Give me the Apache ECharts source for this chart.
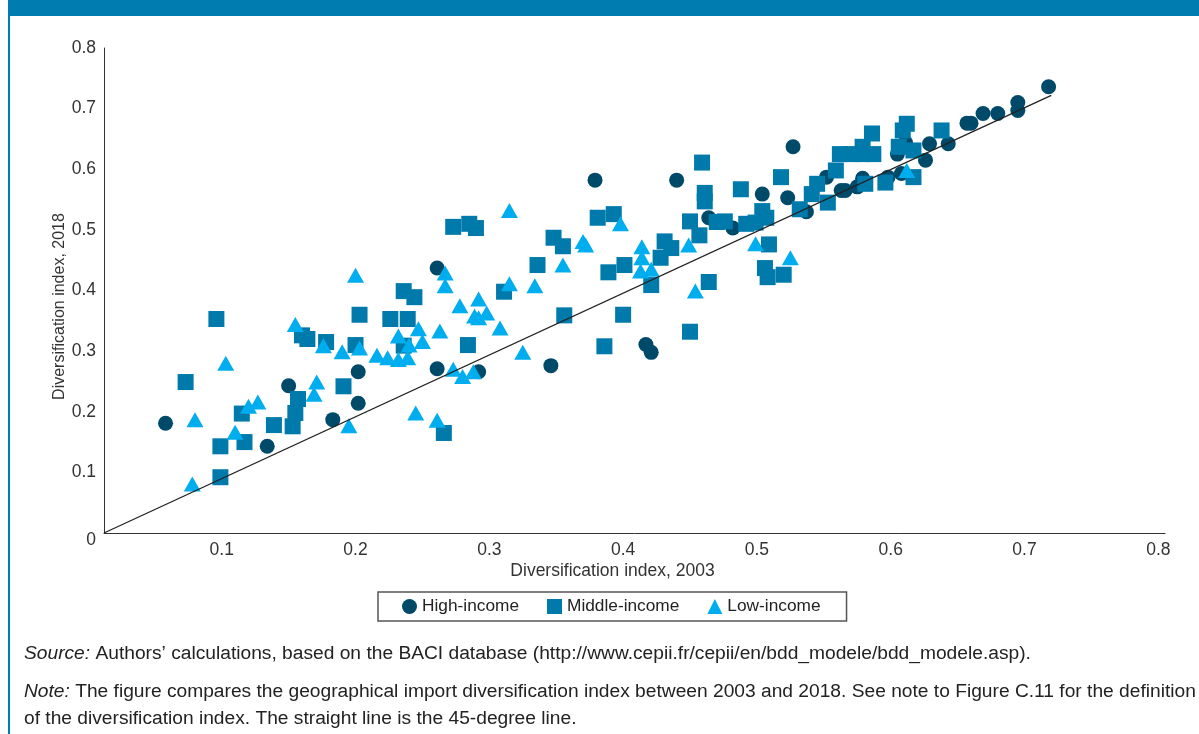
<!DOCTYPE html>
<html>
<head>
<meta charset="utf-8">
<title>Diversification index, 2003 and 2018</title>
<script src="https://cdn.jsdelivr.net/npm/echarts@6/dist/echarts.min.js"></script>
<style>
  html, body { margin: 0; padding: 0; background: #fff; }
  #chart { width: 1199px; height: 734px; }
</style>
</head>
<body>
<div id="chart"></div>
<script>
// [index 2003, index 2018] per country
var highIncome = [
  [0.058, 0.181], [0.134, 0.143], [0.150, 0.243], [0.183, 0.187], [0.202, 0.266],
  [0.202, 0.214], [0.261, 0.437], [0.261, 0.271], [0.292, 0.266], [0.346, 0.276],
  [0.379, 0.582], [0.440, 0.582], [0.417, 0.311], [0.421, 0.298], [0.464, 0.520],
  [0.482, 0.503], [0.504, 0.559], [0.523, 0.553], [0.527, 0.637], [0.537, 0.530],
  [0.552, 0.587], [0.563, 0.565], [0.566, 0.565], [0.575, 0.571], [0.579, 0.585],
  [0.598, 0.587], [0.608, 0.593], [0.605, 0.625], [0.611, 0.644], [0.626, 0.615],
  [0.629, 0.642], [0.643, 0.642], [0.657, 0.676], [0.660, 0.676], [0.669, 0.692],
  [0.680, 0.692], [0.695, 0.710], [0.695, 0.697], [0.718, 0.736]
]
var middleIncome = [
  [0.073, 0.249], [0.096, 0.353], [0.099, 0.143], [0.099, 0.092], [0.115, 0.197],
  [0.117, 0.150], [0.139, 0.178], [0.153, 0.176], [0.155, 0.198], [0.157, 0.221],
  [0.160, 0.326], [0.164, 0.320], [0.178, 0.315], [0.191, 0.242], [0.200, 0.310],
  [0.203, 0.360], [0.226, 0.353], [0.236, 0.399], [0.236, 0.309], [0.239, 0.353],
  [0.244, 0.389], [0.266, 0.165], [0.273, 0.505], [0.285, 0.510], [0.290, 0.503],
  [0.284, 0.310], [0.311, 0.398], [0.336, 0.442], [0.348, 0.487], [0.355, 0.473],
  [0.356, 0.359], [0.381, 0.520], [0.393, 0.526], [0.386, 0.308], [0.389, 0.430],
  [0.401, 0.442], [0.400, 0.360], [0.421, 0.409], [0.428, 0.454], [0.431, 0.481],
  [0.436, 0.470], [0.450, 0.332], [0.450, 0.514], [0.457, 0.491], [0.459, 0.611],
  [0.461, 0.561], [0.461, 0.547], [0.464, 0.414], [0.470, 0.513], [0.476, 0.514],
  [0.488, 0.567], [0.492, 0.510], [0.499, 0.512], [0.504, 0.531], [0.507, 0.520],
  [0.506, 0.437], [0.508, 0.422], [0.509, 0.476], [0.520, 0.426], [0.518, 0.587],
  [0.532, 0.534], [0.541, 0.559], [0.545, 0.576], [0.553, 0.545], [0.559, 0.598],
  [0.562, 0.625], [0.571, 0.625], [0.579, 0.625], [0.587, 0.625], [0.579, 0.637],
  [0.586, 0.659], [0.581, 0.576], [0.596, 0.578], [0.606, 0.637], [0.617, 0.631],
  [0.612, 0.675], [0.609, 0.664], [0.617, 0.587], [0.638, 0.664]
]
var lowIncome = [
  [0.078, 0.081], [0.080, 0.187], [0.103, 0.280], [0.110, 0.166], [0.120, 0.209],
  [0.127, 0.216], [0.155, 0.344], [0.169, 0.229], [0.171, 0.249], [0.176, 0.309],
  [0.190, 0.299], [0.195, 0.177], [0.200, 0.425], [0.203, 0.305], [0.216, 0.293],
  [0.224, 0.289], [0.232, 0.286], [0.232, 0.325], [0.239, 0.289], [0.240, 0.310],
  [0.245, 0.198], [0.247, 0.337], [0.250, 0.316], [0.261, 0.186], [0.263, 0.333],
  [0.267, 0.429], [0.267, 0.408], [0.273, 0.270], [0.278, 0.375], [0.280, 0.258],
  [0.288, 0.266], [0.289, 0.358], [0.292, 0.355], [0.292, 0.386], [0.298, 0.363],
  [0.308, 0.338], [0.315, 0.532], [0.315, 0.411], [0.325, 0.298], [0.334, 0.408],
  [0.355, 0.442], [0.370, 0.481], [0.372, 0.475], [0.398, 0.510], [0.413, 0.432],
  [0.414, 0.472], [0.414, 0.454], [0.421, 0.435], [0.449, 0.475], [0.454, 0.399],
  [0.499, 0.477], [0.525, 0.454], [0.612, 0.598]
]
// the straight (45-degree) line
var diagonal = [[0.012, 0], [0.72, 0.722]]
var xTickLabels = [0.1, 0.2, 0.3, 0.4, 0.5, 0.6, 0.7, 0.8]
var seriesNames = ['High-income', 'Middle-income', 'Low-income']
var sourceText = '{i|Source:} Authors\u2019 calculations, based on the BACI database (http://www.cepii.fr/cepii/en/bdd_modele/bdd_modele.asp).'
var noteLine1 = '{i|Note:} The figure compares the geographical import diversification index between 2003 and 2018. See note to Figure C.11 for the definition'
var noteLine2 = 'of the diversification index. The straight line is the 45-degree line.'

var font = '"Liberation Sans", Arial, Helvetica, sans-serif'
var blue = '#007cb0'
var footSize = 19.2

var chart = echarts.init(document.getElementById('chart'))

var option = {
  animation: false,
  textStyle: { fontFamily: font },
  grid: { left: 104, right: 34, top: 48, bottom: 201, containLabel: false, outerBoundsMode: 'none' },
  legend: {
    left: 378,
    top: 592,
    data: [
      { name: seriesNames[0], icon: 'circle' },
      { name: seriesNames[1], icon: 'rect' },
      { name: seriesNames[2], icon: 'triangle' }
    ],
    itemWidth: 15,
    itemHeight: 15,
    itemGap: 28,
    padding: [6, 26, 6, 24],
    borderColor: '#555',
    borderWidth: 1.5,
    borderRadius: 0,
    textStyle: { fontSize: 17.3, color: '#222', fontFamily: font }
  },
  xAxis: {
    type: 'value',
    min: 0.012,
    max: 0.805,
    splitLine: { show: false },
    axisTick: { show: false },
    axisLine: { show: true, lineStyle: { color: '#333', width: 1 } },
    axisLabel: {
      customValues: xTickLabels,
      margin: 8,
      fontSize: 17.5,
      color: '#333',
      formatter: function (v) { return v.toFixed(1) }
    },
    name: 'Diversification index, 2003',
    nameLocation: 'middle',
    nameMoveOverlap: false,
    nameGap: 29,
    nameTextStyle: { fontSize: 17.5, color: '#333', padding: [0, 44, 0, 0] }
  },
  yAxis: {
    type: 'value',
    min: 0,
    max: 0.8,
    interval: 0.1,
    splitLine: { show: false },
    axisTick: { show: false },
    axisLine: { show: true, lineStyle: { color: '#333', width: 1 } },
    axisLabel: {
      margin: 8,
      fontSize: 17.5,
      color: '#333',
      formatter: function (v) { return v === 0 ? '{zero|0}' : v.toFixed(1) },
      rich: { zero: { fontSize: 17.5, color: '#333', padding: [14, 0, 0, 0] } }
    },
    name: 'Diversification index, 2018',
    nameLocation: 'middle',
    nameMoveOverlap: false,
    nameGap: 36,
    nameTextStyle: { fontSize: 16, color: '#333', padding: [0, 32, 0, 0] }
  },
  series: [
    {
      name: seriesNames[0],
      type: 'scatter',
      symbol: 'circle',
      symbolSize: 15,
      itemStyle: { color: '#004a69', opacity: 1 },
      emphasis: { disabled: true },
      data: highIncome
    },
    {
      name: seriesNames[1],
      type: 'scatter',
      symbol: 'rect',
      symbolSize: 16,
      itemStyle: { color: '#007aab', opacity: 1 },
      emphasis: { disabled: true },
      data: middleIncome
    },
    {
      name: seriesNames[2],
      type: 'scatter',
      symbol: 'triangle',
      symbolSize: [17, 15],
      itemStyle: { color: '#00adee', opacity: 1 },
      emphasis: { disabled: true },
      data: lowIncome
    },
    {
      type: 'line',
      data: diagonal,
      showSymbol: false,
      symbol: 'none',
      silent: true,
      lineStyle: { color: '#222', width: 1.3 },
      z: 5
    }
  ],
  graphic: [
    { type: 'rect', left: 8, top: 0, shape: { width: 1191, height: 16 }, style: { fill: blue } },
    { type: 'rect', left: 8, top: 0, shape: { width: 2, height: 734 }, style: { fill: blue } },
    {
      type: 'text', left: 24, top: 644,
      style: { text: sourceText, font: footSize + 'px ' + font, fill: '#222', rich: { i: { fontStyle: 'italic', fontSize: footSize, fontFamily: font } } }
    },
    {
      type: 'text', left: 24, top: 682,
      style: { text: noteLine1, font: footSize + 'px ' + font, fill: '#222', rich: { i: { fontStyle: 'italic', fontSize: footSize, fontFamily: font } } }
    },
    {
      type: 'text', left: 24, top: 709,
      style: { text: noteLine2, font: footSize + 'px ' + font, fill: '#222' }
    }
  ]
}

chart.setOption(option, true)
</script>
</body>
</html>
